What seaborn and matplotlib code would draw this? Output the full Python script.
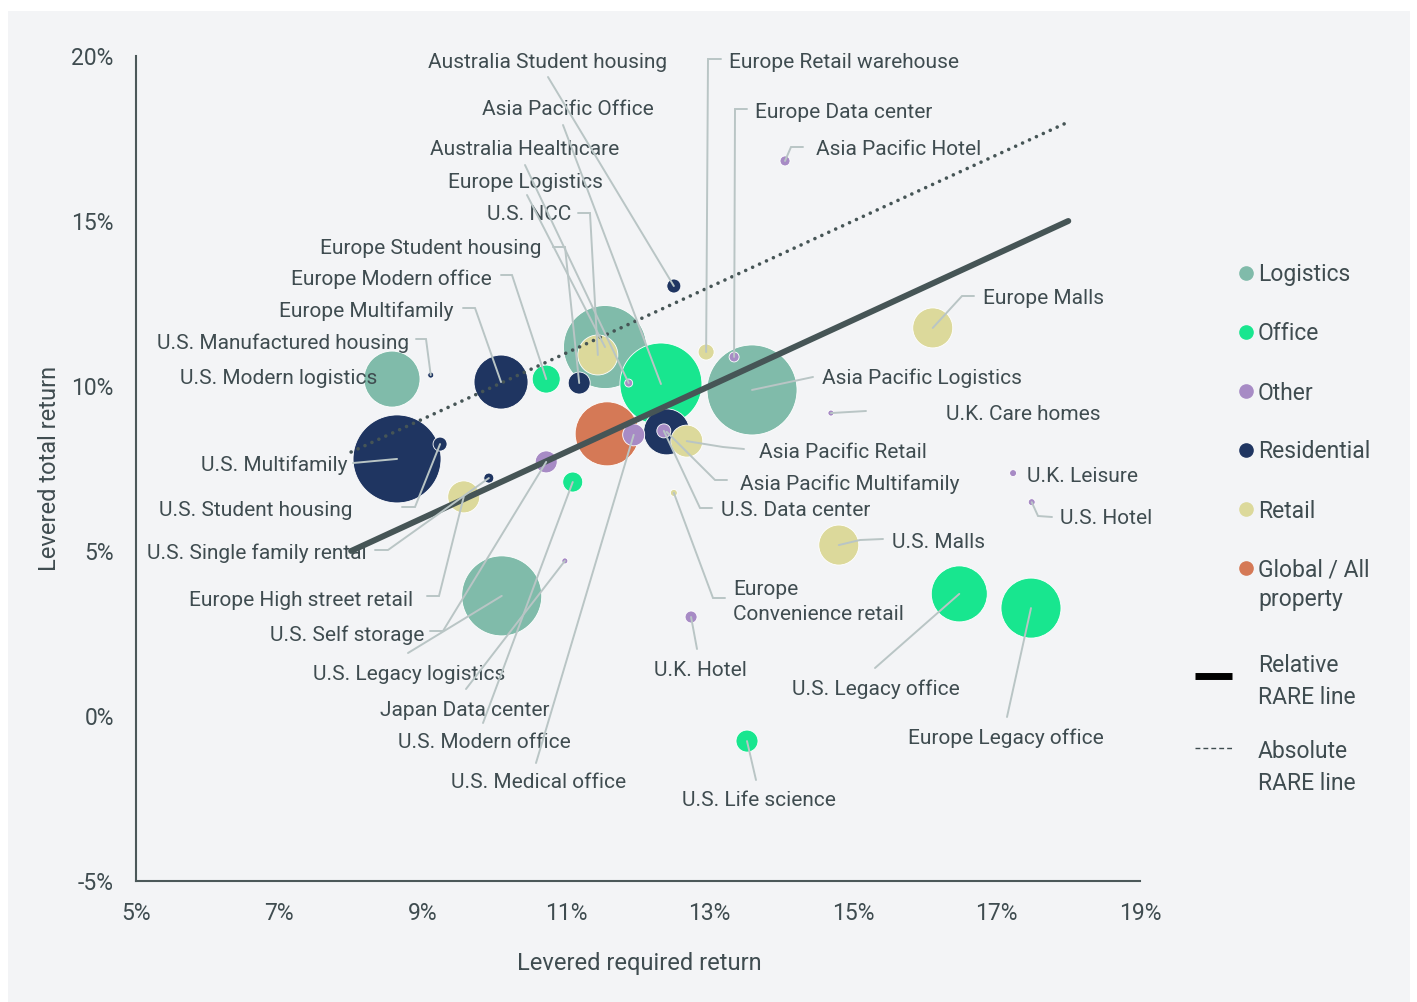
import matplotlib
matplotlib.use("Agg")
import matplotlib.pyplot as plt
from matplotlib.lines import Line2D
from matplotlib.patches import Rectangle
import pandas as pd
import seaborn as sns

# ---------------------------------------------------------------------------
# Data: levered required return vs levered total return by market segment
# ---------------------------------------------------------------------------
segments = [
    "U.S. Modern logistics", "U.S. Manufactured housing", "U.S. Multifamily",
    "U.S. Student housing", "U.S. Single family rental", "Europe High street retail",
    "U.S. Self storage", "U.S. Legacy logistics", "Japan Data center",
    "U.S. Modern office", "U.S. Medical office", "Global / All property",
    "Asia Pacific Multifamily", "U.S. Data center", "Asia Pacific Retail",
    "Europe Convenience retail", "U.K. Hotel", "U.S. Life science",
    "U.S. Malls", "U.S. Legacy office", "Europe Legacy office",
    "U.S. Hotel", "U.K. Leisure", "U.K. Care homes",
    "Asia Pacific Logistics", "Europe Malls", "Asia Pacific Hotel",
    "Europe Data center", "Europe Retail warehouse", "Asia Pacific Office",
    "Australia Student housing", "Australia Healthcare", "Europe Logistics",
    "U.S. NCC", "Europe Student housing", "Europe Modern office",
    "Europe Multifamily",
]
sectors = [
    "Logistics", "Residential", "Residential",
    "Residential", "Residential", "Retail",
    "Other", "Logistics", "Other",
    "Office", "Other", "Global / All property",
    "Residential", "Other", "Retail",
    "Retail", "Other", "Office",
    "Retail", "Office", "Office",
    "Other", "Other", "Other",
    "Logistics", "Retail", "Other",
    "Other", "Retail", "Office",
    "Residential", "Other", "Logistics",
    "Retail", "Residential", "Office",
    "Residential",
]
required_return = [
    8.57, 9.11, 8.64,
    9.24, 9.92, 9.57,
    10.72, 10.10, 10.98,
    11.09, 11.94, 11.57,
    12.40, 12.36, 12.68,
    12.50, 12.74, 13.52,
    14.80, 16.48, 17.48,
    17.49, 17.23, 14.69,
    13.59, 16.11, 14.05,
    13.34, 12.95, 12.32,
    12.50, 11.87, 11.54,
    11.44, 11.18, 10.72,
    10.09,
]
total_return = [
    10.21, 10.33, 7.79,
    8.24, 7.21, 6.64,
    7.70, 3.64, 4.70,
    7.09, 8.52, 8.55,
    8.61, 8.64, 8.33,
    6.76, 3.00, -0.76,
    5.18, 3.70, 3.27,
    6.48, 7.36, 9.18,
    9.88, 11.76, 16.82,
    10.88, 11.03, 10.06,
    13.03, 10.09, 11.18,
    10.94, 10.09, 10.21,
    10.12,
]
relative_weight = [
    784, 9, 1936,
    49, 25, 256,
    121, 1600, 9,
    100, 121, 1024,
    529, 49, 256,
    12, 36, 121,
    400, 784, 900,
    12, 12, 9,
    2025, 400, 25,
    25, 64, 1681,
    49, 16, 1722,
    400, 121, 196,
    729,
]

sector_order = ["Logistics", "Office", "Other", "Residential", "Retail",
                "Global / All property"]
legend_labels = ["Logistics", "Office", "Other", "Residential", "Retail",
                 "Global / All\nproperty"]
sector_colors = ["#80bbaa", "#18e68f", "#a78bc5", "#1f3561", "#dcd99b", "#d57956"]

# RARE reference lines (required return -> total return)
rare_x = [8, 18]
relative_rare = [5, 15]
absolute_rare = [8, 18]

x_ticks = [5, 7, 9, 11, 13, 15, 17, 19]
y_ticks = [-5, 0, 5, 10, 15, 20]

# ---------------------------------------------------------------------------
# Styling
# ---------------------------------------------------------------------------
sns.set_theme(style="white")
plt.rcParams["font.family"] = ["Roboto", "DejaVu Sans"]

TEXT = "#3f4c50"
LEADER = "#b9c5c5"
LINE = "#465556"
PANEL = "#f3f4f6"

W, H = 1417, 1002
fig = plt.figure(figsize=(W / 100, H / 100), dpi=100)
fig.patch.set_facecolor("white")
fig.add_artist(Rectangle((8 / W, 0), (1410 - 8) / W, (H - 11) / H,
                         transform=fig.transFigure, facecolor=PANEL,
                         edgecolor="none", zorder=-10))

ax = fig.add_axes([136 / W, (H - 881) / H, (1140 - 136) / W, (881 - 56) / H])
ax.set_facecolor("none")
ax.set_xlim(5, 19)
ax.set_ylim(-5, 20)
ax.set_autoscale_on(False)

df = pd.DataFrame({
    "segment": segments,
    "sector": sectors,
    "required": required_return,
    "total": total_return,
    "weight": relative_weight,
})
# larger bubbles first so smaller ones sit on top
df = df.sort_values("weight", ascending=False, kind="stable").reset_index(drop=True)

max_w = 2025
sns.scatterplot(
    data=df, x="required", y="total",
    hue="sector", hue_order=sector_order, palette=dict(zip(sector_order, sector_colors)),
    size="weight", sizes=(0, 2.0736 * max_w), size_norm=(0, max_w),
    edgecolor="white", linewidth=0.6, alpha=1, legend=False, ax=ax, zorder=2,
)

# RARE lines
ax.plot(rare_x, relative_rare, color=LINE, lw=4.3, solid_capstyle="round", zorder=5)
ax.plot(rare_x, absolute_rare, color=LINE, lw=2.6, linestyle=(0, (0.01, 2.1)),
        dash_capstyle="round", zorder=5)

# axes
for side in ["top", "right"]:
    ax.spines[side].set_visible(False)
for side in ["left", "bottom"]:
    ax.spines[side].set_color("#4b5859")
    ax.spines[side].set_linewidth(1.5)
ax.set_xticks(x_ticks)
ax.set_xticklabels([f"{t}%" for t in x_ticks])
ax.set_yticks(y_ticks)
ax.set_yticklabels([f"{t}%" for t in y_ticks])
ax.tick_params(axis="both", length=0, labelsize=16.5, labelcolor=TEXT)
ax.tick_params(axis="y", pad=16)
ax.tick_params(axis="x", pad=15)
ax.set_xlabel("Levered required return", fontsize=17, color=TEXT, va="center")
ax.set_ylabel("Levered total return", fontsize=17, color=TEXT, va="center")
ax.xaxis.set_label_coords(0.501, -0.1)
ax.yaxis.set_label_coords(-0.0857, 0.50)

# ---------------------------------------------------------------------------
# Segment labels with leader lines (layout given in figure pixels, top origin)
# ---------------------------------------------------------------------------
inv = ax.transData.inverted()
TEXT_DROP = 2  # optical centring of text on its row


def to_data(px, py):
    return inv.transform((px, H - py))


label_layout = {
    "Australia Student housing": ("Australia Student housing", 428, 61, [(548, 77)]),
    "Asia Pacific Office": ("Asia Pacific Office", 482, 108, [(563, 125)]),
    "Australia Healthcare": ("Australia Healthcare", 430, 148, [(525, 165)]),
    "Europe Logistics": ("Europe Logistics", 448, 180, [(527, 195)]),
    "U.S. NCC": ("U.S. NCC", 487, 213, [(578, 213), (590, 213)]),
    "Europe Student housing": ("Europe Student housing", 320, 247, [(553, 247), (565, 247)]),
    "Europe Modern office": ("Europe Modern office", 291, 277, [(501, 275), (512, 275)]),
    "Europe Multifamily": ("Europe Multifamily", 279, 309, [(463, 308), (475, 308)]),
    "U.S. Manufactured housing": ("U.S. Manufactured housing", 157, 341, [(416, 339), (426, 339)]),
    "U.S. Modern logistics": ("U.S. Modern logistics", 180, 376, []),
    "U.S. Multifamily": ("U.S. Multifamily", 201, 463, [(353, 463)]),
    "U.S. Student housing": ("U.S. Student housing", 159, 509, [(402, 507), (415, 507)]),
    "U.S. Single family rental": ("U.S. Single family rental", 147, 551, [(375, 550), (388, 550)]),
    "Europe High street retail": ("Europe High street retail", 189, 598, [(427, 596), (439, 596)]),
    "U.S. Self storage": ("U.S. Self storage", 270, 633, [(430, 631), (443, 631)]),
    "U.S. Legacy logistics": ("U.S. Legacy logistics", 313, 673, [(408, 653)]),
    "Japan Data center": ("Japan Data center", 380, 708, [(466, 689)]),
    "U.S. Modern office": ("U.S. Modern office", 398, 741, [(483, 723)]),
    "U.S. Medical office": ("U.S. Medical office", 451, 781, [(536, 763)]),
    "Europe Retail warehouse": ("Europe Retail warehouse", 729, 61, [(721, 59), (708, 59)]),
    "Europe Data center": ("Europe Data center", 755, 110, [(747, 109), (735, 109)]),
    "Asia Pacific Hotel": ("Asia Pacific Hotel", 816, 148, [(803, 147), (791, 147)]),
    "Europe Malls": ("Europe Malls", 983, 297, [(974, 296), (962, 296)]),
    "Asia Pacific Logistics": ("Asia Pacific Logistics", 822, 376, [(813, 377)]),
    "U.K. Care homes": ("U.K. Care homes", 946, 413, [(866, 411)]),
    "Asia Pacific Retail": ("Asia Pacific Retail", 759, 450, [(744, 449), (723, 447)]),
    "Asia Pacific Multifamily": ("Asia Pacific Multifamily", 740, 482, [(727, 480), (715, 480)]),
    "U.S. Data center": ("U.S. Data center", 721, 509, [(712, 508), (700, 508)]),
    "Europe Convenience retail": ("Europe\nConvenience retail", 733, 600, [(725, 598), (713, 598)]),
    "U.S. Malls": ("U.S. Malls", 892, 541, [(883, 539), (860, 540)]),
    "U.K. Leisure": ("U.K. Leisure", 1027, 474, []),
    "U.S. Hotel": ("U.S. Hotel", 1060, 517, [(1052, 517), (1038, 516)]),
    "U.K. Hotel": ("U.K. Hotel", 654, 668, [(697, 649)]),
    "U.S. Legacy office": ("U.S. Legacy office", 792, 687, [(875, 668)]),
    "Europe Legacy office": ("Europe Legacy office", 908, 736, [(1007, 717)]),
    "U.S. Life science": ("U.S. Life science", 682, 799, [(756, 780)]),
}

points = df.set_index("segment")
for seg, (text, tx, ty, elbows) in label_layout.items():
    bx, by = points.loc[seg, "required"], points.loc[seg, "total"]
    lx, ly = to_data(tx, ty + TEXT_DROP)
    ax.text(lx, ly, text, ha="left", va="center", fontsize=15, color=TEXT,
            linespacing=1.45, zorder=3, clip_on=False)
    if elbows:
        path = [to_data(px, py) for px, py in elbows]
        xs = [p[0] for p in path] + [bx]
        ys = [p[1] for p in path] + [by]
        ax.plot(xs, ys, color=LEADER, lw=1.4, zorder=6, clip_on=False,
                solid_joinstyle="miter")

# ---------------------------------------------------------------------------
# Legend
# ---------------------------------------------------------------------------
def fig_xy(px, py):
    return px / W, 1 - py / H


legend_rows = [273, 332, 391, 450, 509, 583]
for label, color, row in zip(legend_labels, sector_colors, legend_rows):
    marker_row = row if "\n" not in label else 568
    fig.add_artist(Line2D(*zip(fig_xy(1246, marker_row)), transform=fig.transFigure,
                          marker="o", markersize=9.5, color=color, linestyle="none"))
    fig.text(*fig_xy(1258, row + TEXT_DROP), label, ha="left", va="center",
             fontsize=16.5, color=TEXT, linespacing=1.35)

x0, y0 = fig_xy(1195, 676)
x1, _ = fig_xy(1232, 676)
fig.add_artist(Line2D([x0, x1], [y0, y0], transform=fig.transFigure, color="black",
                      lw=5, solid_capstyle="butt"))
fig.text(*fig_xy(1258, 679 + TEXT_DROP), "Relative\nRARE line", ha="left", va="center",
         fontsize=16.5, color=TEXT, linespacing=1.5)

x0, y0 = fig_xy(1195, 748)
x1, _ = fig_xy(1232, 748)
fig.add_artist(Line2D([x0, x1], [y0, y0], transform=fig.transFigure, color=TEXT,
                      lw=1.0, linestyle=(0, (3.5, 2.2))))
fig.text(*fig_xy(1258, 765 + TEXT_DROP), "Absolute\nRARE line", ha="left", va="center",
         fontsize=16.5, color=TEXT, linespacing=1.5)

fig.savefig("out.png", dpi=100, facecolor=fig.get_facecolor())
